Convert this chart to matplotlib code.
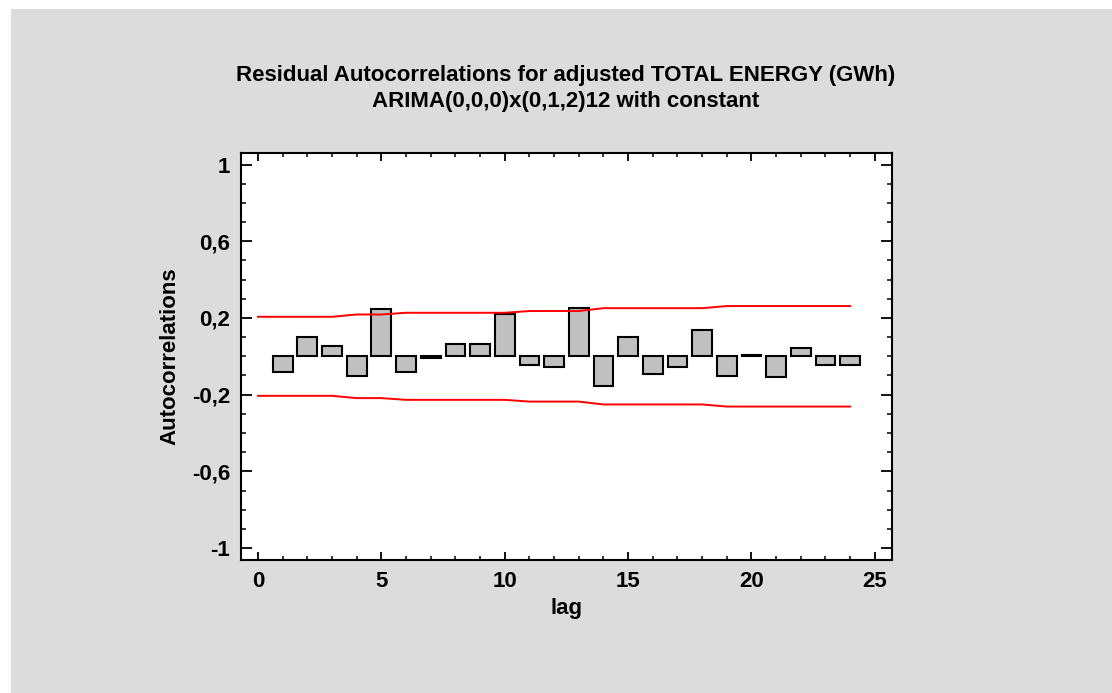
import numpy as np
import matplotlib.pyplot as plt
from matplotlib.patches import Rectangle
from matplotlib.ticker import MultipleLocator, FuncFormatter

# residual autocorrelations per lag
lags = np.arange(1, 25)
acf = [-0.080, 0.099, 0.054, -0.101, 0.245, -0.082, -0.008, 0.066,
       0.066, 0.219, -0.047, -0.054, 0.254, -0.155, 0.101, -0.092,
       -0.054, 0.137, -0.101, 0.008, -0.110, 0.045, -0.045, -0.045]

# probability limits (lags 0..24)
limit_lags = np.arange(0, 25)
limits = [0.206, 0.206, 0.206, 0.206, 0.218, 0.218, 0.227, 0.227, 0.227,
          0.227, 0.227, 0.236, 0.236, 0.236, 0.251, 0.251, 0.251, 0.251,
          0.251, 0.262, 0.262, 0.262, 0.262, 0.262, 0.262]

plt.rcParams['font.family'] = ['Liberation Sans', 'DejaVu Sans']
plt.rcParams['font.weight'] = 'bold'
fs = 16

fig = plt.figure(figsize=(11.12, 6.93), dpi=100)
fig.patch.set_facecolor('white')
# gray panel (small white border at top/left)
fig.patches.append(Rectangle((11 / 1112, 0), 1 - 11 / 1112, 1 - 9 / 693,
                             transform=fig.transFigure, facecolor='#dcdcdc',
                             edgecolor='none', zorder=-10))

ax = fig.add_axes([241 / 1112, 1 - 560 / 693, (892 - 241) / 1112, (560 - 153) / 693])
ax.set_facecolor('white')

ax.bar(lags, acf, width=0.8, color='#c0c0c0', edgecolor='black', linewidth=1.5, zorder=2)
ax.plot(limit_lags, limits, color='red', linewidth=1.4, zorder=3)
ax.plot(limit_lags, -np.array(limits), color='red', linewidth=1.4, zorder=3)

ax.set_xlim(-0.69, 25.7)
ax.set_ylim(-1.062, 1.06)

ax.xaxis.set_major_locator(MultipleLocator(5))
ax.xaxis.set_minor_locator(MultipleLocator(1))
ax.set_yticks([-1, -0.6, -0.2, 0.2, 0.6, 1])
ax.yaxis.set_minor_locator(MultipleLocator(0.1))
ax.yaxis.set_major_formatter(FuncFormatter(lambda v, p: ('%g' % round(v, 2)).replace('.', ',')))

ax.tick_params(axis='x', which='major', direction='in', length=6, width=1.3,
               top=True, labelsize=fs, pad=8)
ax.tick_params(axis='x', which='minor', direction='in', length=2.8, width=1.1, top=True)
ax.tick_params(axis='y', which='major', direction='in', length=8, width=1.3,
               right=True, labelsize=fs, pad=8)
ax.tick_params(axis='y', which='minor', direction='in', length=3.6, width=1.1, right=True)
for lab in ax.get_xticklabels() + ax.get_yticklabels():
    lab.set_fontweight('bold')
for s in ax.spines.values():
    s.set_linewidth(1.5)

ax.set_xlabel('lag', fontsize=fs, fontweight='bold', labelpad=4)
ax.set_ylabel('Autocorrelations', fontsize=fs, fontweight='bold', labelpad=8)

fig.text(566 / 1112, 1 - 75 / 693, 'Residual Autocorrelations for adjusted TOTAL ENERGY (GWh)',
         ha='center', va='center', fontsize=fs, fontweight='bold')
fig.text(566 / 1112, 1 - 102 / 693, 'ARIMA(0,0,0)x(0,1,2)12 with constant',
         ha='center', va='center', fontsize=fs, fontweight='bold')

fig.savefig('out.png', dpi=100)
